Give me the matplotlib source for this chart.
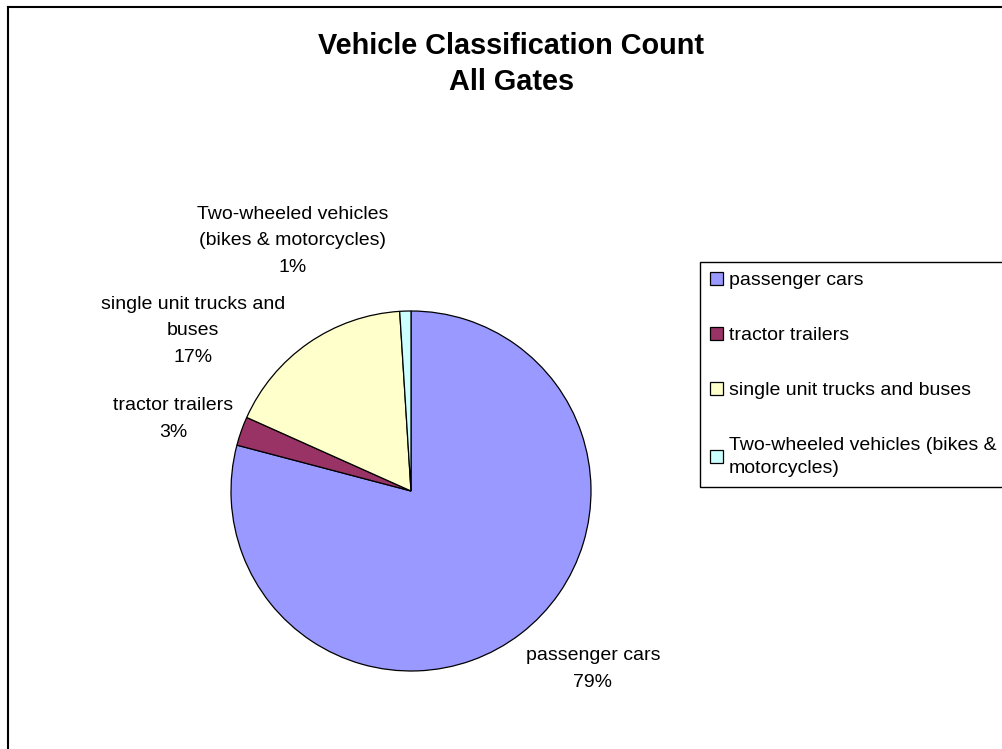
import matplotlib
matplotlib.use('Agg')
import matplotlib.pyplot as plt
from matplotlib.lines import Line2D

plt.rcParams['font.family'] = ['Liberation Sans', 'DejaVu Sans']

categories = ['passenger cars', 'tractor trailers', 'single unit trucks and buses',
              'Two-wheeled vehicles (bikes & motorcycles)']
shares = [79.1, 2.6, 17.3, 1.0]
colors = ['#9999FF', '#993366', '#FFFFCC', '#CCFFFF']
slice_names = ['passenger cars', 'tractor trailers', 'single unit trucks and\nbuses',
               'Two-wheeled vehicles\n(bikes & motorcycles)']
legend_names = ['passenger cars', 'tractor trailers', 'single unit trucks and buses',
                'Two-wheeled vehicles (bikes &\nmotorcycles)']
# label spots around the pie, in pie radii
label_pos = [(1.01, -0.99), (-1.32, 0.40), (-1.21, 0.89), (-0.66, 1.39)]

W, H = 1002, 749
fig = plt.figure(figsize=(W / 100, H / 100), dpi=100)
fig.patch.set_facecolor('white')

cx, cy, r = 411, 491, 180
ax = fig.add_axes([(cx - r) / W, (H - cy - r) / H, 2 * r / W, 2 * r / H])
wedges, _ = ax.pie(shares, colors=colors, startangle=90, counterclock=False, radius=1,
                   wedgeprops=dict(edgecolor='black', linewidth=0.9))
ax.set_xlim(-1, 1)
ax.set_ylim(-1, 1)
ax.set_aspect('auto')
ax.axis('off')

for name, v, (x, y) in zip(slice_names, shares, label_pos):
    ax.text(x, y, f'{name}\n{v:.0f}%', ha='center', va='center', multialignment='center',
            fontsize=14, color='black', linespacing=1.75, clip_on=False)

fig.text(511 / W, 1 - 64 / H, 'Vehicle Classification Count\nAll Gates', ha='center', va='center',
         fontsize=20.8, fontweight='bold', linespacing=1.37)

leg = fig.legend(wedges, legend_names, loc='upper left', bbox_to_anchor=(700 / W, 1 - 262 / H),
                 fontsize=14, frameon=True, fancybox=False, shadow=False, framealpha=1,
                 edgecolor='black', borderpad=0.5, borderaxespad=0, labelspacing=1.92,
                 handlelength=0.7, handleheight=0.7, handletextpad=0.3)
leg.get_frame().set_linewidth(1.0)
for t in leg.get_texts():
    t.set_linespacing(1.5)

# chart area border (only top and left show in the crop)
fig.add_artist(Line2D([8 / W, 1], [1 - 7 / H, 1 - 7 / H], color='black', linewidth=1.5))
fig.add_artist(Line2D([8 / W, 8 / W], [0, 1 - 7 / H], color='black', linewidth=1.5))

fig.savefig('out.png', dpi=100)
